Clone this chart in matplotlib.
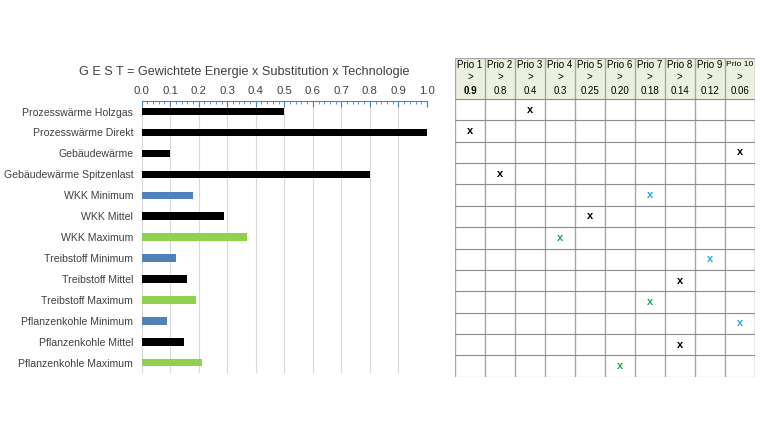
import numpy as np
import matplotlib.pyplot as plt
from matplotlib.ticker import MultipleLocator

plt.rcParams['font.family'] = ['Liberation Sans', 'DejaVu Sans']

# data
labels = ['Prozesswärme Holzgas', 'Prozesswärme Direkt', 'Gebäudewärme',
          'Gebäudewärme Spitzenlast', 'WKK Minimum', 'WKK Mittel', 'WKK Maximum',
          'Treibstoff Minimum', 'Treibstoff Mittel', 'Treibstoff Maximum',
          'Pflanzenkohle Minimum', 'Pflanzenkohle Mittel', 'Pflanzenkohle Maximum']
gest = [0.50, 1.00, 0.10, 0.80, 0.18, 0.29, 0.37, 0.12, 0.16, 0.19, 0.09, 0.15, 0.21]
kind = ['mid', 'mid', 'mid', 'mid', 'min', 'mid', 'max',
        'min', 'mid', 'max', 'min', 'mid', 'max']
xticks = [0.0, 0.1, 0.2, 0.3, 0.4, 0.5, 0.6, 0.7, 0.8, 0.9, 1.0]
prio_names = ['Prio %d' % i for i in range(1, 11)]
prio_limits = ['0.9', '0.8', '0.4', '0.3', '0.25', '0.20', '0.18', '0.14', '0.12', '0.06']
prio_col = [3, 1, 10, 2, 7, 5, 4, 9, 8, 7, 10, 8, 6]

bar_col = {'mid': 'black', 'min': '#4f81bd', 'max': '#92d050'}
x_col = {'mid': 'black', 'min': '#1fa8e6', 'max': '#18a84a'}
txt = '#404040'

fig = plt.figure(figsize=(7.6, 4.4), dpi=100)

# bar chart
ax = fig.add_axes([0.1864, 0.152, 0.3754, 0.6182])
y = np.arange(len(labels))
ax.barh(y, gest, height=0.36, color=[bar_col[k] for k in kind], zorder=3)
ax.set_xlim(0, 1.0)
ax.set_ylim(12.5, -0.5)
ax.set_yticks(y)
ax.set_yticklabels(labels, fontsize=7.6, color=txt)
ax.tick_params(axis='y', length=0, pad=6)
ax.xaxis.tick_top()
ax.set_xticks(xticks)
ax.set_xticklabels(['%.1f' % v for v in xticks])
ax.xaxis.set_minor_locator(MultipleLocator(0.02))
ax.tick_params(axis='x', which='major', direction='in', length=4, color='#4f81bd',
               labelsize=8.2, labelcolor=txt, pad=3.5)
ax.tick_params(axis='x', which='minor', direction='in', length=2, color='#4f81bd')
ax.grid(axis='x', color='#d9d9d9', lw=0.8, zorder=0)
for s in ['left', 'right', 'bottom']:
    ax.spines[s].set_visible(False)
ax.spines['top'].set_color('#4f81bd')
ax.spines['top'].set_linewidth(0.8)
ax.set_title('G E S T = Gewichtete Energie x Substitution x Technologie',
             fontsize=9.1, color=txt, pad=19, x=0.36)

# priority table
tb = fig.add_axes([0.5987, 0.1439, 0.3943, 0.7243])
head = 1.92
nrow = len(labels)
ncol = len(prio_names)
tb.set_xlim(0, ncol)
tb.set_ylim(head + nrow, 0)
tb.axis('off')
tb.add_patch(plt.Rectangle((0, 0), ncol, head, color='#ebf1de', zorder=0))
for i in range(ncol + 1):
    tb.plot([i, i], [0, head + nrow], color='#a6a6a6', lw=1.0, zorder=2)
for j in range(nrow + 1):
    tb.plot([0, ncol], [head + j, head + j], color='#8c8c8c', lw=0.8, zorder=2)
tb.plot([0, ncol], [0, 0], color='#a6a6a6', lw=1.0, zorder=2)
for i in range(ncol):
    fs = 6.1 if i == 9 else 7
    tb.text(i + 0.5, 0.32, prio_names[i], ha='center', va='center', fontsize=fs, color='black')
    tb.text(i + 0.5, 0.9, '>', ha='center', va='center', fontsize=7, color='black')
    tb.text(i + 0.5, 1.55, prio_limits[i], ha='center', va='center', fontsize=7,
            color='black', fontweight='bold' if i == 0 else 'normal')
for j in range(nrow):
    tb.text(prio_col[j] - 0.5, head + j + 0.5, 'x', ha='center', va='center',
            fontsize=8, fontweight='bold', color=x_col[kind[j]])

fig.savefig('out.png', dpi=100)
